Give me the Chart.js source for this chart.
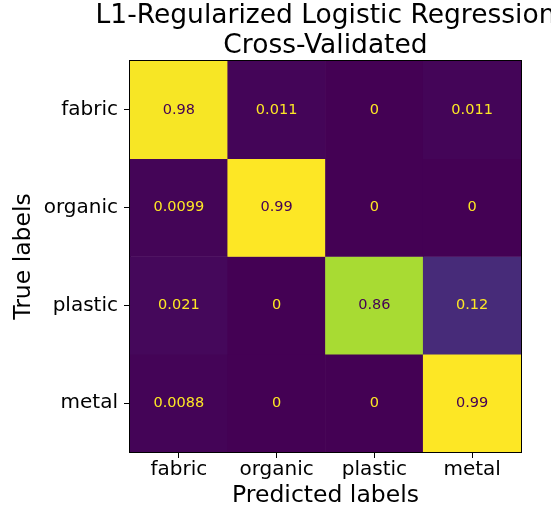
<!DOCTYPE html>
<html>
<head>
<meta charset="utf-8">
<script src="https://cdn.jsdelivr.net/npm/chart.js@4/dist/chart.umd.min.js"></script>
<style>
  html, body { margin: 0; padding: 0; background: #fff; }
  canvas { display: block; }
</style>
</head>
<body>
<canvas id="cmChart" width="551" height="513"></canvas>
<script>
// confusion matrix data (rows = true, cols = predicted)
const TITLE_LINES = ['L1-Regularized Logistic Regression', 'Cross-Validated'];
const trueLabels = ['fabric', 'organic', 'plastic', 'metal'];
const predLabels = ['fabric', 'organic', 'plastic', 'metal'];
const rowFabric = [0.98, 0.011, 0, 0.011];
const rowOrganic = [0.0099, 0.99, 0, 0];
const rowPlastic = [0.021, 0, 0.86, 0.12];
const rowMetal = [0.0088, 0, 0, 0.99];
const matrix = [rowFabric, rowOrganic, rowPlastic, rowMetal];

// viridis stops
const VIRIDIS = ['#440154', '#482475', '#414487', '#355f8d', '#2a788e', '#21918c',
  '#22a884', '#44bf70', '#7ad151', '#bddf26', '#fde725'];

function hexRgb(h) {
  return [parseInt(h.slice(1, 3), 16), parseInt(h.slice(3, 5), 16), parseInt(h.slice(5, 7), 16)];
}
function viridis(t) {
  t = Math.max(0, Math.min(1, t));
  const p = t * (VIRIDIS.length - 1);
  const i = Math.min(Math.floor(p), VIRIDIS.length - 2);
  const f = p - i;
  const a = hexRgb(VIRIDIS[i]), b = hexRgb(VIRIDIS[i + 1]);
  const c = a.map((v, k) => Math.round(v + (b[k] - v) * f));
  return 'rgb(' + c.join(',') + ')';
}

const all = matrix.flat();
const vmin = Math.min(...all);
const vmax = Math.max(...all);
const thresh = (vmin + vmax) / 2;
const norm = v => (v - vmin) / (vmax - vmin);

Chart.defaults.font.family = "'DejaVu Sans', sans-serif";
Chart.defaults.color = '#000';

// ── cell annotations, frame and title ─────────────────────────
const cmPlugin = {
  id: 'cmPlugin',
  afterDatasetsDraw(chart) {
    const ctx = chart.ctx;
    ctx.save();
    ctx.font = "14.5px 'DejaVu Sans'";
    ctx.textAlign = 'center';
    ctx.textBaseline = 'middle';
    chart.data.datasets.forEach((ds, r) => {
      chart.getDatasetMeta(r).data.forEach((el, c) => {
        const v = matrix[r][c];
        ctx.fillStyle = v < thresh ? viridis(1) : viridis(0);
        ctx.fillText(String(v), el.x, (el.y + el.base) / 2);
      });
    });
    ctx.restore();
  },
  afterDraw(chart) {
    const { ctx, chartArea: a } = chart;
    ctx.save();
    ctx.strokeStyle = '#000';
    ctx.lineWidth = 1;
    ctx.strokeRect(a.left - 0.5, a.top - 0.5, a.right - a.left + 1, a.bottom - a.top + 1);
    ctx.fillStyle = '#000';
    ctx.font = "26.5px 'DejaVu Sans'";
    ctx.textAlign = 'center';
    ctx.textBaseline = 'alphabetic';
    const cx = (a.left + a.right) / 2;
    ctx.fillText(TITLE_LINES[0], cx, 23);
    ctx.fillText(TITLE_LINES[1], cx, 52.5);
    ctx.restore();
  },
};

new Chart(document.getElementById('cmChart'), {
  type: 'bar',
  data: {
    labels: predLabels,
    datasets: matrix.map((row, r) => ({
      label: trueLabels[r],
      data: row.map(() => [r - 0.5, r + 0.5]),
      backgroundColor: row.map(v => viridis(norm(v))),
      borderWidth: 0,
      grouped: false,
      barPercentage: 1,
      categoryPercentage: 1,
    })),
  },
  options: {
    responsive: false,
    animation: false,
    layout: { padding: { top: 61, right: 30, bottom: 0, left: 0 } },
    plugins: {
      legend: { display: false },
      tooltip: { enabled: false },
      title: { display: false },
    },
    scales: {
      x: {
        afterFit: s => { s.height = 61; },
        grid: { display: true, offset: false, drawOnChartArea: false, tickLength: 6, tickColor: '#000' },
        border: { display: true, color: '#000' },
        ticks: { font: { size: 20 }, padding: 0, maxRotation: 0 },
        title: { display: true, text: 'Predicted labels', font: { size: 23.5 }, padding: { bottom: 3 } },
      },
      y: {
        min: -0.5,
        max: 3.5,
        reverse: true,
        afterFit: s => { s.width = 130; },
        afterBuildTicks: s => { s.ticks = trueLabels.map((_, i) => ({ value: i })); },
        grid: { display: true, drawOnChartArea: false, tickLength: 6, tickColor: '#000' },
        border: { display: true, color: '#000' },
        ticks: { font: { size: 20 }, padding: 6, callback: v => trueLabels[v] },
        title: { display: true, text: 'True labels', font: { size: 23.5 }, padding: { top: 10 } },
      },
    },
  },
  plugins: [cmPlugin],
});
</script>
</body>
</html>
